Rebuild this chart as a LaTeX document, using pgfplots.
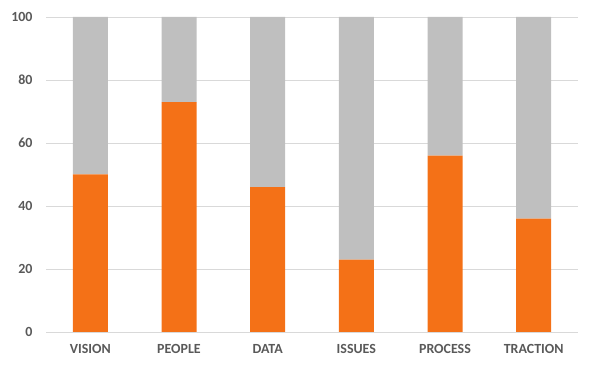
\documentclass[border=0pt]{standalone}
\usepackage{pgfplots}
\pgfplotsset{compat=1.18}
\usepackage{fontspec}
\setmainfont{Carlito}
\definecolor{orng}{HTML}{F47117}
\definecolor{gry}{HTML}{BFBFBF}
\definecolor{txt}{HTML}{595959}
\definecolor{grd}{HTML}{D9D9D9}
\begin{document}
\begin{tikzpicture}
\path[use as bounding box] (-46bp,-33bp) rectangle (543bp,332bp);
\begin{axis}[
  at={(0,0)}, anchor=south west,
  scale only axis, width=532bp, height=315bp,
  ybar stacked, bar width=35bp,
  xmin=-0.5, xmax=5.5, ymin=0, ymax=100,
  ytick={0,20,...,100},
  xtick={0,...,5},
  xticklabels={VISION,PEOPLE,DATA,ISSUES,PROCESS,TRACTION},
  axis line style={draw=none},
  major tick length=0pt,
  ymajorgrids, grid style={grd, line width=0.8pt},
  /pgf/number format/assume math mode=true,
  tick label style={font=\fontsize{14}{16}\selectfont\bfseries, text=txt},
  yticklabel style={anchor=east, xshift=-10bp},
  xticklabel style={anchor=center, yshift=-17bp},
]
\addplot[fill=orng, draw=none] coordinates {(0,50) (1,73) (2,46) (3,23) (4,56) (5,36)};
\addplot[fill=gry, draw=none] coordinates {(0,50) (1,27) (2,54) (3,77) (4,44) (5,64)};
\end{axis}
\end{tikzpicture}
\end{document}
